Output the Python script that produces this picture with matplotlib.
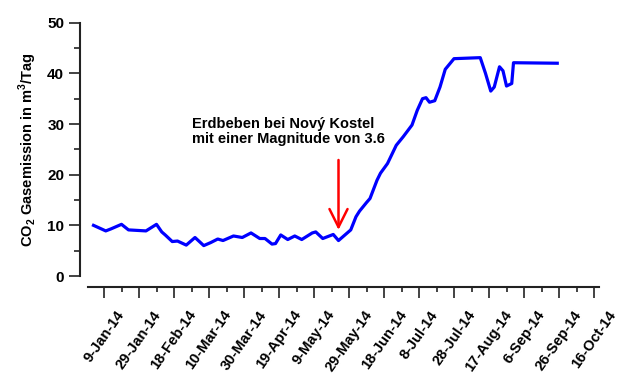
import matplotlib
matplotlib.use("Agg")
import matplotlib.pyplot as plt
import matplotlib.dates as mdates
from matplotlib.ticker import MultipleLocator
import pandas as pd

# CO2 gas emission readings (m3/day)
dates = [
    "2014-01-03", "2014-01-10", "2014-01-13", "2014-01-19", "2014-01-23",
    "2014-02-02", "2014-02-08", "2014-02-11", "2014-02-13", "2014-02-17",
    "2014-02-20", "2014-02-25", "2014-03-02", "2014-03-07", "2014-03-11",
    "2014-03-15", "2014-03-18", "2014-03-24", "2014-03-29", "2014-04-03",
    "2014-04-08", "2014-04-11", "2014-04-15", "2014-04-17", "2014-04-20",
    "2014-04-24", "2014-04-28", "2014-05-02", "2014-05-08", "2014-05-10",
    "2014-05-14", "2014-05-20", "2014-05-23", "2014-05-30", "2014-06-02",
    "2014-06-04", "2014-06-08", "2014-06-10", "2014-06-14", "2014-06-16",
    "2014-06-20", "2014-06-25", "2014-06-29", "2014-07-04", "2014-07-07",
    "2014-07-10", "2014-07-12", "2014-07-14", "2014-07-17", "2014-07-20",
    "2014-07-23", "2014-07-28", "2014-08-12", "2014-08-15", "2014-08-18",
    "2014-08-20", "2014-08-23", "2014-08-25", "2014-08-27", "2014-08-30",
    "2014-08-31", "2014-09-25",
]
values = [
    10.0, 8.9, 9.3, 10.2, 9.1,
    8.9, 10.2, 8.7, 8.1, 6.8,
    6.9, 6.1, 7.6, 6.0, 6.6,
    7.3, 7.0, 7.9, 7.6, 8.5,
    7.4, 7.4, 6.3, 6.4, 8.1,
    7.2, 7.9, 7.2, 8.5, 8.7,
    7.4, 8.2, 7.0, 9.1, 11.7,
    12.8, 14.5, 15.3, 18.9, 20.3,
    22.2, 25.8, 27.5, 29.8, 32.7,
    35.0, 35.2, 34.3, 34.6, 37.3,
    40.8, 42.9, 43.1, 40.0, 36.5,
    37.3, 41.3, 40.5, 37.5, 38.0,
    42.1, 42.0,
]

tick_dates = pd.date_range("2014-01-09", "2014-10-16", freq="20D")
tick_labels = [
    "9-Jan-14", "29-Jan-14", "18-Feb-14", "10-Mar-14", "30-Mar-14",
    "19-Apr-14", "9-May-14", "29-May-14", "18-Jun-14", "8-Jul-14",
    "28-Jul-14", "17-Aug-14", "6-Sep-14", "26-Sep-14", "16-Oct-14",
]
minor_dates = pd.date_range("2014-01-19", "2014-10-06", freq="20D")

quake_date = "2014-05-23"
quake_tip, quake_top = 9.1, 22.9
quake_text = "Erdbeben bei Nový Kostel\nmit einer Magnitude von 3.6"

plt.rcParams["font.family"] = ["Liberation Sans", "DejaVu Sans"]
plt.rcParams["font.weight"] = "bold"
plt.rcParams["mathtext.fontset"] = "custom"
plt.rcParams["mathtext.rm"] = "Liberation Sans:bold"
plt.rcParams["mathtext.bf"] = "Liberation Sans:bold"

x = pd.to_datetime(dates)

fig = plt.figure(figsize=(6.4, 3.85), dpi=100)
ax = fig.add_axes([79.5 / 640, 1 - 276 / 385, 519.75 / 640, 253.3 / 385])

ax.plot(x, values, color="#0000ff", lw=2.3, solid_joinstyle="round")

ax.set_xlim(pd.Timestamp("2013-12-26"), pd.Timestamp("2014-10-19"))
ax.set_ylim(0, 50)

for s in ["top", "right"]:
    ax.spines[s].set_visible(False)
for s in ["left", "bottom"]:
    ax.spines[s].set_linewidth(1.5)
    ax.spines[s].set_color("#222222")
ax.spines["bottom"].set_position(("outward", 8))
ax.spines["bottom"].set_bounds(mdates.date2num(pd.Timestamp("2013-12-31")),
                               mdates.date2num(pd.Timestamp("2014-10-19")))

ax.set_xticks(tick_dates)
ax.set_xticklabels(tick_labels, rotation=55, ha="center", va="top",
                   fontsize=10.5, fontweight="bold")
ax.set_xticks(minor_dates, minor=True)
ax.yaxis.set_major_locator(MultipleLocator(10))
ax.yaxis.set_minor_locator(MultipleLocator(5))
ax.tick_params(axis="x", which="major", length=8, width=1.2, color="#222222", pad=7)
ax.tick_params(axis="x", which="minor", length=3.6, width=1.2, color="#222222")
ax.tick_params(axis="y", which="major", length=8, width=1.2, color="#222222",
               labelsize=11, pad=3)
ax.tick_params(axis="y", which="minor", length=4.3, width=1.2, color="#222222")
for lbl in ax.get_yticklabels():
    lbl.set_fontweight("bold")

ax.set_ylabel(r"CO$_{\mathbf{2}}$ Gasemission in m$^{\mathbf{3}}$/Tag",
              fontsize=10.5, fontweight="bold", labelpad=6)

qd = pd.Timestamp(quake_date)
ax.annotate("", xy=(qd, quake_tip), xytext=(qd, quake_top),
            arrowprops=dict(arrowstyle="->, head_length=1.3, head_width=0.65",
                            color="#ff0000", lw=1.8, shrinkA=0, shrinkB=0))
ax.text(pd.Timestamp("2014-02-28"), 31.4, quake_text, fontsize=10.5,
        fontweight="bold", va="top", ha="left", linespacing=1.1)

fig.savefig("out.png", dpi=100)
